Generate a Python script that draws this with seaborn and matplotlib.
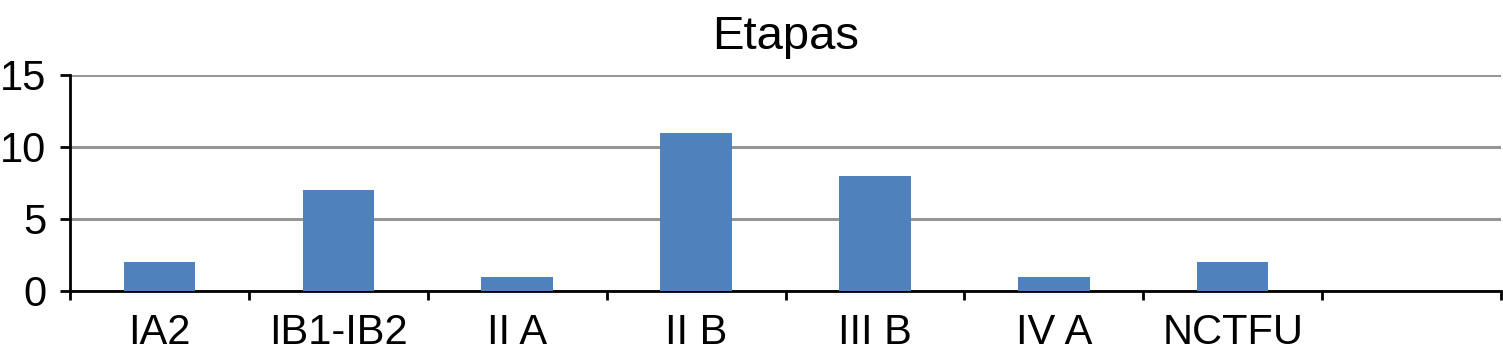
import matplotlib
matplotlib.use("Agg")
import matplotlib.pyplot as plt
import seaborn as sns
import pandas as pd
import numpy as np
from matplotlib.ticker import FixedLocator

categories = ["IA2", "IB1-IB2", "II A", "II B", "III B", "IV A", "NCTFU"]
values = [2, 7, 1, 11, 8, 1, 2]
yticks = [0, 5, 10, 15]
title = "Etapas"

sns.set_theme(style="white")
plt.rcParams['font.family'] = ['Liberation Sans', 'DejaVu Sans']

df = pd.DataFrame({"cat": categories, "val": values})

fig = plt.figure(figsize=(15.03, 3.56), dpi=100)
ax = fig.add_axes([70/1503, 65/356, (1501-70)/1503, (291-75)/356])
sns.barplot(data=df, x="cat", y="val", order=categories, color="#4F81BD",
            width=0.4, saturation=1, linewidth=0, ax=ax, zorder=3)

ax.set_xlim(-0.5, len(categories) + 0.5)
ax.set_ylim(0, 15)
ax.set_yticks(yticks)
ax.set_yticklabels([str(t) for t in yticks])
ax.set_xlabel("")
ax.set_ylabel("")
ax.yaxis.grid(True, color="#969696", linewidth=2.2, zorder=0)
ax.set_axisbelow(True)

for s in ["top", "right"]:
    ax.spines[s].set_visible(False)
for s in ["left", "bottom"]:
    ax.spines[s].set_color("black")
    ax.spines[s].set_linewidth(2)

ax.xaxis.set_minor_locator(FixedLocator(np.arange(-0.5, len(categories) + 1.0, 1.0)))
ax.tick_params(axis="x", which="major", length=0, pad=16, labelsize=30, colors="black")
ax.tick_params(axis="x", which="minor", length=6.5, width=2, direction="out", color="black", bottom=True)
ax.tick_params(axis="y", which="major", length=7.2, width=2, direction="out", pad=10,
               labelsize=30, colors="black", left=True)
ax.set_title(title, fontsize=34, pad=19, color="black")

fig.savefig("out.png", dpi=100)
